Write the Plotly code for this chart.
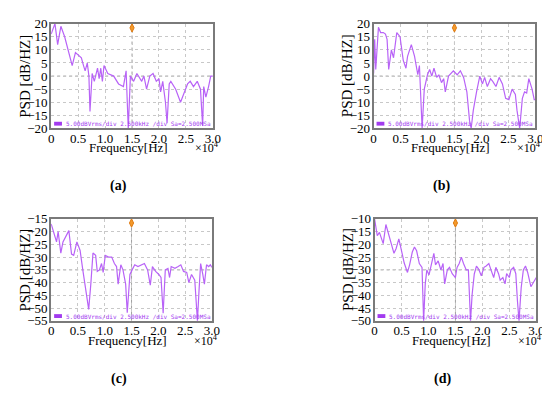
import plotly.graph_objects as go

# ---------------- data (frequency in units of 1e4 Hz, PSD in dB/Hz) ----------------
freq_a = [0.00, 0.07, 0.12, 0.18, 0.25, 0.32, 0.39, 0.45, 0.56, 0.60, 0.63, 0.67, 0.70, 0.72,
          0.76, 0.80, 0.86, 0.89, 0.92, 0.95, 0.98, 1.05, 1.16, 1.25, 1.34, 1.39, 1.43, 1.47,
          1.53, 1.59, 1.65, 1.68, 1.72, 1.77, 1.83, 1.89, 1.95, 2.00, 2.03, 2.07, 2.12, 2.15,
          2.19, 2.22, 2.31, 2.40, 2.53, 2.58, 2.64, 2.71, 2.77, 2.81, 2.83, 2.87, 2.92, 2.96, 3.00]
psd_a = [16, 20, 12, 19, 15, 10, 4, 9, 7, 4, 2, 5, 0, -13.5,
         1, -2, 3, -1, 3, -2, 4, 1, 0, -3, -4, 2, -20, 0,
         -2, 1, -1, -2, 0, -5, 0, 1, -2, -1, -6, -2, -10, -18,
         -3, -2, -5, -10, -3, -2, -4, -2, -5, -19, -4, -8, -4, 0, 0]

freq_b = [0.00, 0.02, 0.04, 0.09, 0.13, 0.18, 0.22, 0.25, 0.28, 0.33, 0.37, 0.43, 0.49, 0.55,
          0.60, 0.63, 0.70, 0.76, 0.82, 0.85, 0.90, 0.94, 1.00, 1.04, 1.08, 1.12, 1.17, 1.21,
          1.26, 1.30, 1.33, 1.39, 1.48, 1.55, 1.61, 1.67, 1.73, 1.78, 1.81, 1.85, 1.91, 1.97,
          2.02, 2.06, 2.11, 2.17, 2.21, 2.27, 2.33, 2.39, 2.45, 2.51, 2.57, 2.63, 2.66, 2.71,
          2.76, 2.80, 2.84, 2.88, 2.94, 2.98, 3.00]
psd_b = [1, 14, 2.5, 18.6, 16.6, 16.6, 16, 14, 2.5, 10, 7, 16.6, 15, 6,
         3, 7.5, 12, 7.5, 0.5, 4, -20, -5, 0.5, 2.5, 0, 3, -0.5, 0.5,
         -2.5, -1, -6, 0, 2, 0.5, 2, -0.5, -6, -17, -20, -13, -6, 0,
         -3, -0.5, -4, -1, -2, -4, -0.5, -3, -8.5, -9, -5, -7, -13, -20,
         -8.5, -6, -6.5, -1, -5, -9, -9]

freq_c = [0.00, 0.07, 0.10, 0.13, 0.18, 0.22, 0.27, 0.33, 0.38, 0.42, 0.48, 0.54, 0.59, 0.65,
          0.70, 0.74, 0.78, 0.83, 0.86, 0.90, 0.94, 0.97, 1.01, 1.07, 1.13, 1.18, 1.22, 1.25,
          1.30, 1.34, 1.39, 1.42, 1.47, 1.51, 1.56, 1.62, 1.68, 1.74, 1.80, 1.85, 1.89, 1.95,
          2.01, 2.05, 2.09, 2.13, 2.18, 2.21, 2.24, 2.31, 2.37, 2.42, 2.47, 2.53, 2.57, 2.62,
          2.68, 2.73, 2.76, 2.79, 2.83, 2.86, 2.90, 2.94, 2.97, 3.00]
psd_c = [-17, -22.5, -24, -20, -28.4, -24, -22, -19.6, -28.8, -29.3, -24, -27.4, -35, -43,
         -50.5, -40.6, -28.4, -29.3, -35.6, -35, -32.5, -36, -29.3, -30, -30, -32.5, -33.7, -40.6,
         -33, -35, -40.6, -51.8, -36.8, -35, -33, -33.7, -33, -32.5, -35, -41, -33.7, -35.6,
         -36.8, -38, -52, -35, -34.4, -38, -33.7, -34.4, -33.7, -33, -35.6, -36, -40, -36.8,
         -39, -55, -43, -32.5, -36.8, -40.6, -33, -33.7, -33, -34]

freq_d = [0.00, 0.03, 0.05, 0.09, 0.11, 0.16, 0.21, 0.25, 0.30, 0.36, 0.40, 0.45, 0.49, 0.55,
          0.61, 0.65, 0.70, 0.74, 0.78, 0.83, 0.88, 0.91, 0.94, 0.97, 1.01, 1.06, 1.10, 1.13,
          1.18, 1.23, 1.27, 1.30, 1.35, 1.39, 1.44, 1.50, 1.53, 1.57, 1.61, 1.65, 1.70, 1.74,
          1.78, 1.81, 1.85, 1.89, 1.93, 1.98, 2.03, 2.07, 2.12, 2.16, 2.21, 2.25, 2.30, 2.33,
          2.38, 2.42, 2.45, 2.50, 2.53, 2.58, 2.62, 2.65, 2.68, 2.72, 2.76, 2.80, 2.84, 2.90,
          2.95, 3.00]
psd_d = [-10, -14, -16.6, -15.3, -16.6, -19.7, -12.2, -15.3, -19, -23.5, -21.6, -17.8, -21.6, -27.3,
         -31, -28, -23, -21, -22.5, -27.5, -29, -50, -35.5, -30, -32, -27.5, -23.5, -28,
         -26.5, -30, -27.5, -35.5, -30, -29, -31.5, -33, -29, -27.5, -25, -27.5, -30, -30,
         -50, -39.6, -31.6, -28.5, -29.7, -32.3, -29, -28.5, -27.5, -30, -33, -29, -31.5, -34,
         -33, -35.5, -31.5, -33, -30, -29, -31.5, -42, -50, -37, -30, -28.5, -31, -36.6,
         -34.8, -33]

y_ranges = [(-20, 20), (-20, 20), (-55, -15), (-50, -10)]
panel_labels = ["(a)", "(b)", "(c)", "(d)"]
x_ticks = [0, 0.5, 1.0, 1.5, 2.0, 2.5, 3.0]
x_ticktext = ["0", "0.5", "1.0", "1.5", "2.0", "2.5", "3.0"]
scope_text = "5.00dBVrms/div 2.500kHz /div Sa=2.500MSa"

# ---------------- layout geometry (pixels) ----------------
W, H = 550, 393
boxes = [(41, 206, 9, 118), (370, 535, 9, 118), (41, 205, 212, 318), (371, 536, 212, 318)]

LINE = "#B863F7"
PURPLE = "#A23BEF"
SERIF = "Liberation Serif"

fig = go.Figure()
series = [(freq_a, psd_a), (freq_b, psd_b), (freq_c, psd_c), (freq_d, psd_d)]

annotations = []
shapes = []
for i, ((fx, py), (x0, x1, y0, y1), (ylo, yhi), lab) in enumerate(zip(series, boxes, y_ranges, panel_labels)):
    n = "" if i == 0 else str(i + 1)
    xa, ya = "x" + n, "y" + n
    dx = [x0 / W, x1 / W]
    dy = [1 - y1 / H, 1 - y0 / H]
    fig.add_trace(go.Scatter(x=fx, y=py, mode="lines", line=dict(color=LINE, width=1.2),
                             xaxis=xa, yaxis=ya, showlegend=False, hoverinfo="skip"))
    ymid = (ylo + yhi) / 2
    yticks = list(range(ylo, yhi + 1, 5))
    ax = dict(domain=dx, range=[0, 3], tickvals=x_ticks, ticktext=x_ticktext, showgrid=True,
              gridcolor="#c8c8c8", griddash="dot", gridwidth=1, zeroline=False, showline=True,
              mirror=True, linecolor="#7a7a7a", linewidth=2, ticks="", anchor=ya,
              ticklabelstandoff=-3,
              tickfont=dict(family=SERIF, size=13, color="black"), fixedrange=True)
    ay = dict(domain=dy, range=[ylo, yhi], tickvals=yticks, showgrid=True, gridcolor="#c8c8c8",
              griddash="dot", gridwidth=1, zeroline=False, showline=True, mirror=True,
              linecolor="#7a7a7a", linewidth=2, ticks="", anchor=xa,
              ticklabelstandoff=-1,
              tickfont=dict(family=SERIF, size=13, color="black"), fixedrange=True)
    fig.layout["xaxis" + n] = ax
    fig.layout["yaxis" + n] = ay
    # center cross lines (darker dotted)
    shapes.append(dict(type="line", xref=xa, yref=ya, x0=0, x1=3, y0=ymid, y1=ymid,
                       line=dict(color="#a0a0a0", width=1, dash="dot"), layer="below"))
    shapes.append(dict(type="line", xref=xa, yref=ya, x0=1.5, x1=1.5, y0=ylo, y1=yhi,
                       line=dict(color="#a0a0a0", width=1, dash="dot"), layer="below"))
    # orange trigger marker at top
    fig.add_trace(go.Scatter(x=[1.5], y=[yhi - (yhi - ylo) * 0.04], mode="markers",
                             marker=dict(symbol="diamond-tall", size=6, color="#F39A2B",
                                         line=dict(color="#E07A10", width=1)),
                             xaxis=xa, yaxis=ya, showlegend=False, hoverinfo="skip", cliponaxis=False))
    if i < 2:
        fig.add_trace(go.Scatter(x=[-0.03], y=[ymid], mode="markers",
                                 marker=dict(symbol="triangle-right", size=6, color=PURPLE),
                                 xaxis=xa, yaxis=ya, showlegend=False, hoverinfo="skip", cliponaxis=False))
    # channel box + scope status text at the bottom inside the plot
    shapes.append(dict(type="rect", xref="paper", yref="paper",
                       x0=(x0 + 3) / W, x1=(x0 + 11) / W, y0=1 - (y1 - 3) / H, y1=1 - (y1 - 7) / H,
                       fillcolor=PURPLE, line=dict(width=0)))
    annotations.append(dict(text=scope_text, xref="paper", yref="paper", x=(x0 + 13) / W,
                            y=1 - (y1 - 5) / H, xanchor="left", yanchor="middle", showarrow=False,
                            font=dict(family="DejaVu Sans Mono", size=6, color=PURPLE)))
    # axis titles
    annotations.append(dict(text="Frequency[Hz]", xref="paper", yref="paper", x=(x0 + x1 - 8) / 2 / W,
                            y=1 - (y1 + 20) / H, xanchor="center", yanchor="middle", showarrow=False,
                            font=dict(family=SERIF, size=13, color="black")))
    annotations.append(dict(text="×10<sup>4</sup>", xref="paper", yref="paper", x=(x1 - 6) / W,
                            y=1 - (y1 + 20) / H, xanchor="center", yanchor="middle", showarrow=False,
                            font=dict(family=SERIF, size=12, color="black")))
    annotations.append(dict(text="PSD [dB/HZ]", xref="paper", yref="paper", x=(x0 - 27) / W,
                            y=1 - (y0 + y1) / 2 / H, xanchor="center", yanchor="middle", showarrow=False,
                            textangle=-90, font=dict(family=SERIF, size=15, color="black")))
    annotations.append(dict(text="<b>" + lab + "</b>", xref="paper", yref="paper", x=(x0 + 69) / W,
                            y=1 - (y1 + 60) / H, xanchor="center", yanchor="middle", showarrow=False,
                            font=dict(family=SERIF, size=14, color="black")))

fig.update_layout(width=W, height=H, margin=dict(l=0, r=0, t=0, b=0), paper_bgcolor="white",
                  plot_bgcolor="white", annotations=annotations, shapes=shapes, showlegend=False)
fig.write_html("out.html")
